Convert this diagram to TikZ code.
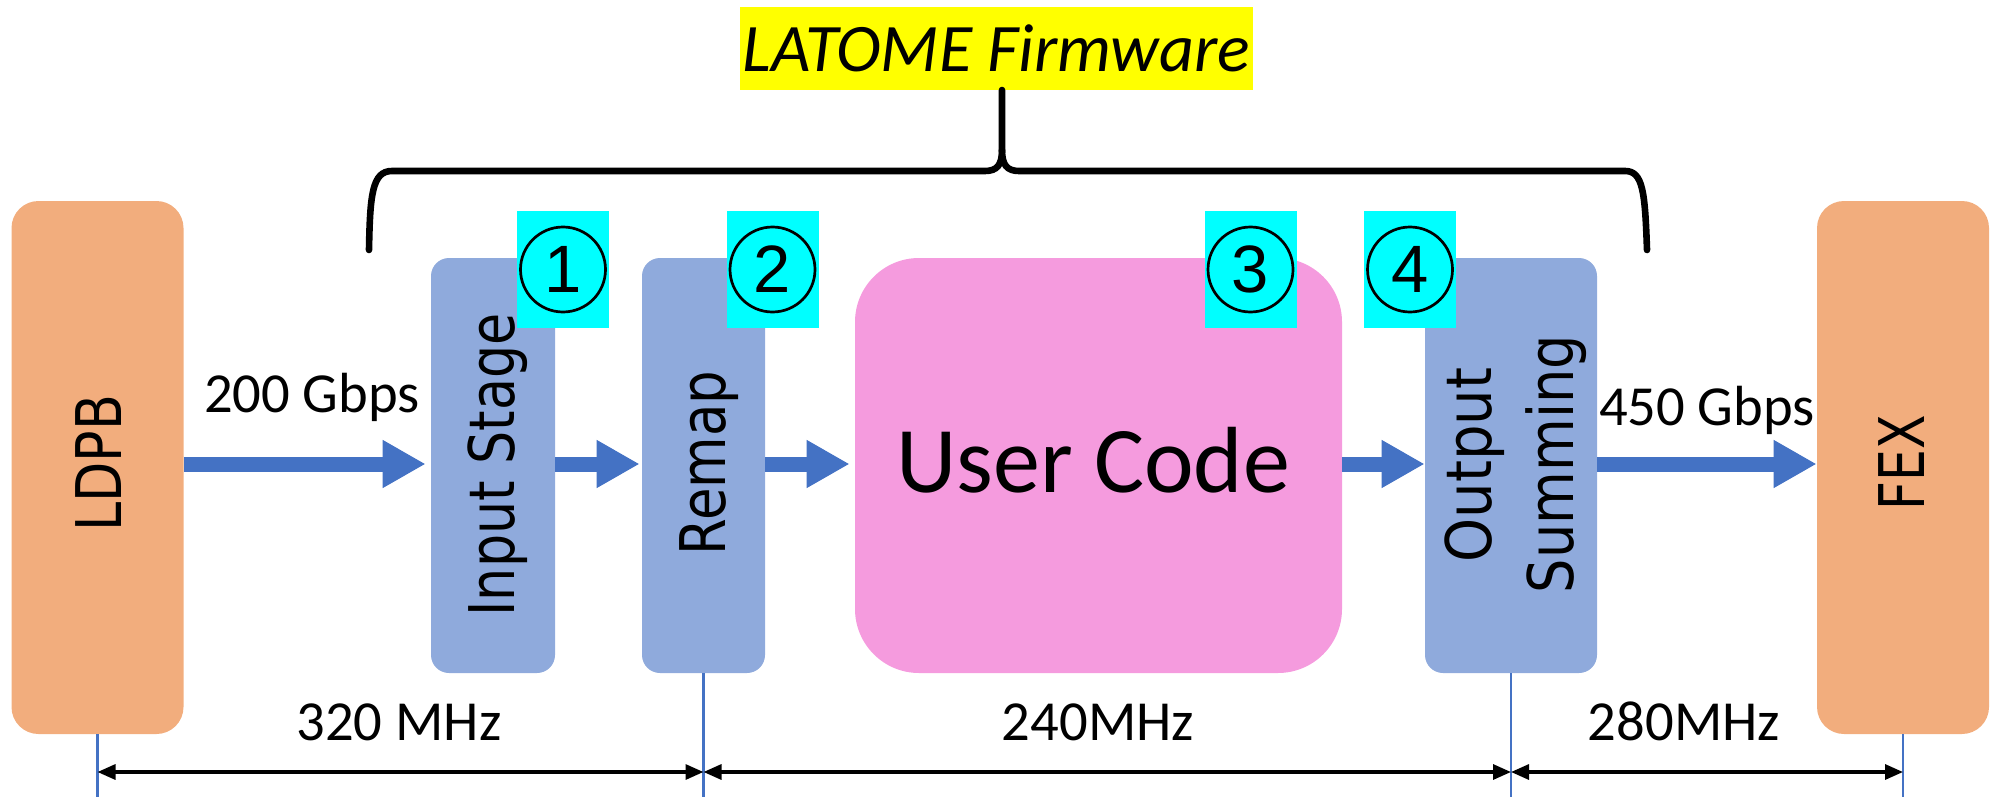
\documentclass[tikz,border=0pt]{standalone}
\usepackage{fontspec}
\usetikzlibrary{arrows.meta}
\newfontfamily\carlito{Carlito}
\newfontfamily\dejavu{DejaVu Sans}
\newfontfamily\libsans{Liberation Sans}
\definecolor{boxorange}{HTML}{F2AD7D}
\definecolor{boxblue}{HTML}{8FAADC}
\definecolor{boxpink}{HTML}{F59BDE}
\definecolor{arrowblue}{HTML}{4472C4}
\definecolor{tagcyan}{HTML}{00FFFF}
\definecolor{titleyellow}{HTML}{FFFF00}
\begin{document}
\begin{tikzpicture}[x=0.5pt,y=-0.5pt,
  orangebox/.style={fill=boxorange, draw=none, rounded corners=13.5pt, inner sep=0, minimum width=86pt, minimum height=266.5pt},
  bluebox/.style={fill=boxblue, draw=none, rounded corners=9pt, inner sep=0, minimum height=207.5pt},
  pinkbox/.style={fill=boxpink, draw=none, rounded corners=32pt, inner sep=0, minimum height=207.5pt},
  rottext/.style={rotate=90, font=\dejavu\fontsize{31.5}{38}\selectfont, inner sep=0},
  lbl/.style={font=\carlito\fontsize{28.3}{34}\selectfont, inner sep=0, anchor=base},
  cyanbox/.style={fill=tagcyan, draw=none, inner sep=0, minimum width=46pt, minimum height=58.5pt},
  numcirc/.style={circle, draw=black, line width=1.35pt, inner sep=0, minimum size=42.5pt, font=\libsans\fontsize{33.5}{40}\selectfont},
  bigarrow/.style={draw=arrowblue, line width=7.5pt, -{Triangle[length=21.5pt,width=22.5pt]}},
  dimarrow/.style={draw=black, line width=1.6pt, {Triangle[length=9pt,width=7.5pt]}-{Triangle[length=9pt,width=7.5pt]}},
  vline/.style={draw=arrowblue, line width=1.3pt},
  brace/.style={draw=black, line width=3.3pt, line cap=round, line join=round}
]
\useasboundingbox (0,0) rectangle (1991,797);

% title
\node[fill=titleyellow, inner sep=0, minimum width=256.5pt, minimum height=41.5pt,
      font=\carlito\itshape\fontsize{34}{40}\selectfont] (title) at (996.5,48.5) {LATOME Firmware};

% brace
\draw[brace] (369,250) .. controls (370,195) and (372,171) .. (392,171) -- (985,171)
  .. controls (997,171) and (1002,165) .. (1002,150) -- (1002,90);
\draw[brace] (1002,150) .. controls (1002,165) and (1007,171) .. (1019,171) -- (1625,171)
  .. controls (1643,171) and (1645,192) .. (1647,250);

% boxes
\node[orangebox] (ldpb) at (97.5,467.5) {};
\node[orangebox] (fex) at (1903,467.5) {};
\node[bluebox, minimum width=62pt] (inp) at (493,465.5) {};
\node[bluebox, minimum width=61.5pt] (remap) at (703.5,465.5) {};
\node[pinkbox, minimum width=243.5pt] (uc) at (1098.5,465.5) {};
\node[bluebox, minimum width=86pt] (outs) at (1511,465.5) {};

% box texts
\node[rottext] (tldpb) at (98.5,463.5) {\scalebox{0.83}[1]{LDPB}};
\node[rottext] (tinp) at (497.5,465) {\scalebox{0.83}[1]{Input Stage}};
\node[rottext] (tremap) at (709,463) {\scalebox{0.84}[1]{Remap}};
\node[rottext] (tout1) at (1475,465) {\scalebox{0.89}[1]{Output}};
\node[rottext] (tout2) at (1556,464) {\scalebox{0.86}[1]{Summing}};
\node[rottext] (tfex) at (1902,463) {\scalebox{0.8}[1]{FEX}};
\node[font=\carlito\fontsize{47}{56}\selectfont, inner sep=0, anchor=base] (tuc) at (1093,492) {User Code};

% numbered tags
\node[cyanbox] (c1) at (563,269.5) {};
\node[numcirc] (n1) at (c1.center) {1};
\node[cyanbox] (c2) at (772.5,269.5) {};
\node[numcirc] (n2) at (c2.center) {2};
\node[cyanbox] (c3) at (1250.5,269.5) {};
\node[numcirc] (n3) at (c3.center) {3};
\node[cyanbox] (c4) at (1410,269.5) {};
\node[numcirc] (n4) at (c4.center) {4};

% flow arrows
\coordinate (ay) at (0,464);
\draw[bigarrow, shorten >=2.5pt] (ldpb.east |- ay) -- (inp.west |- ay);
\draw[bigarrow, shorten >=1pt] (inp.east |- ay) -- (remap.west |- ay);
\draw[bigarrow, shorten >=2.5pt] (remap.east |- ay) -- (uc.west |- ay);
\draw[bigarrow] (uc.east |- ay) -- (outs.west |- ay);
\draw[bigarrow] (outs.east |- ay) -- (fex.west |- ay);

\node[lbl] (r1) at (312,412) {200 Gbps};
\node[lbl] (r2) at (1707,425) {450 Gbps};

% clock domains
\coordinate (bot) at (0,797);
\coordinate (dy) at (0,772);
\draw[vline] (ldpb.south) -- (ldpb.south |- bot);
\draw[vline] (remap.south) -- (remap.south |- bot);
\draw[vline] (outs.south) -- (outs.south |- bot);
\draw[vline] (fex.south) -- (fex.south |- bot);
\coordinate (d1) at (ldpb.south |- dy);
\coordinate (d2) at (remap.south |- dy);
\coordinate (d3) at (outs.south |- dy);
\coordinate (d4) at (fex.south |- dy);
\draw[dimarrow] (d1) -- (d2);
\draw[dimarrow] (d2) -- (d3);
\draw[dimarrow] (d3) -- (d4);

\node[lbl] (f1) at (399,740) {320 MHz};
\node[lbl] (f2) at (1098,740) {240MHz};
\node[lbl] (f3) at (1684,740) {280MHz};
\end{tikzpicture}
\end{document}
